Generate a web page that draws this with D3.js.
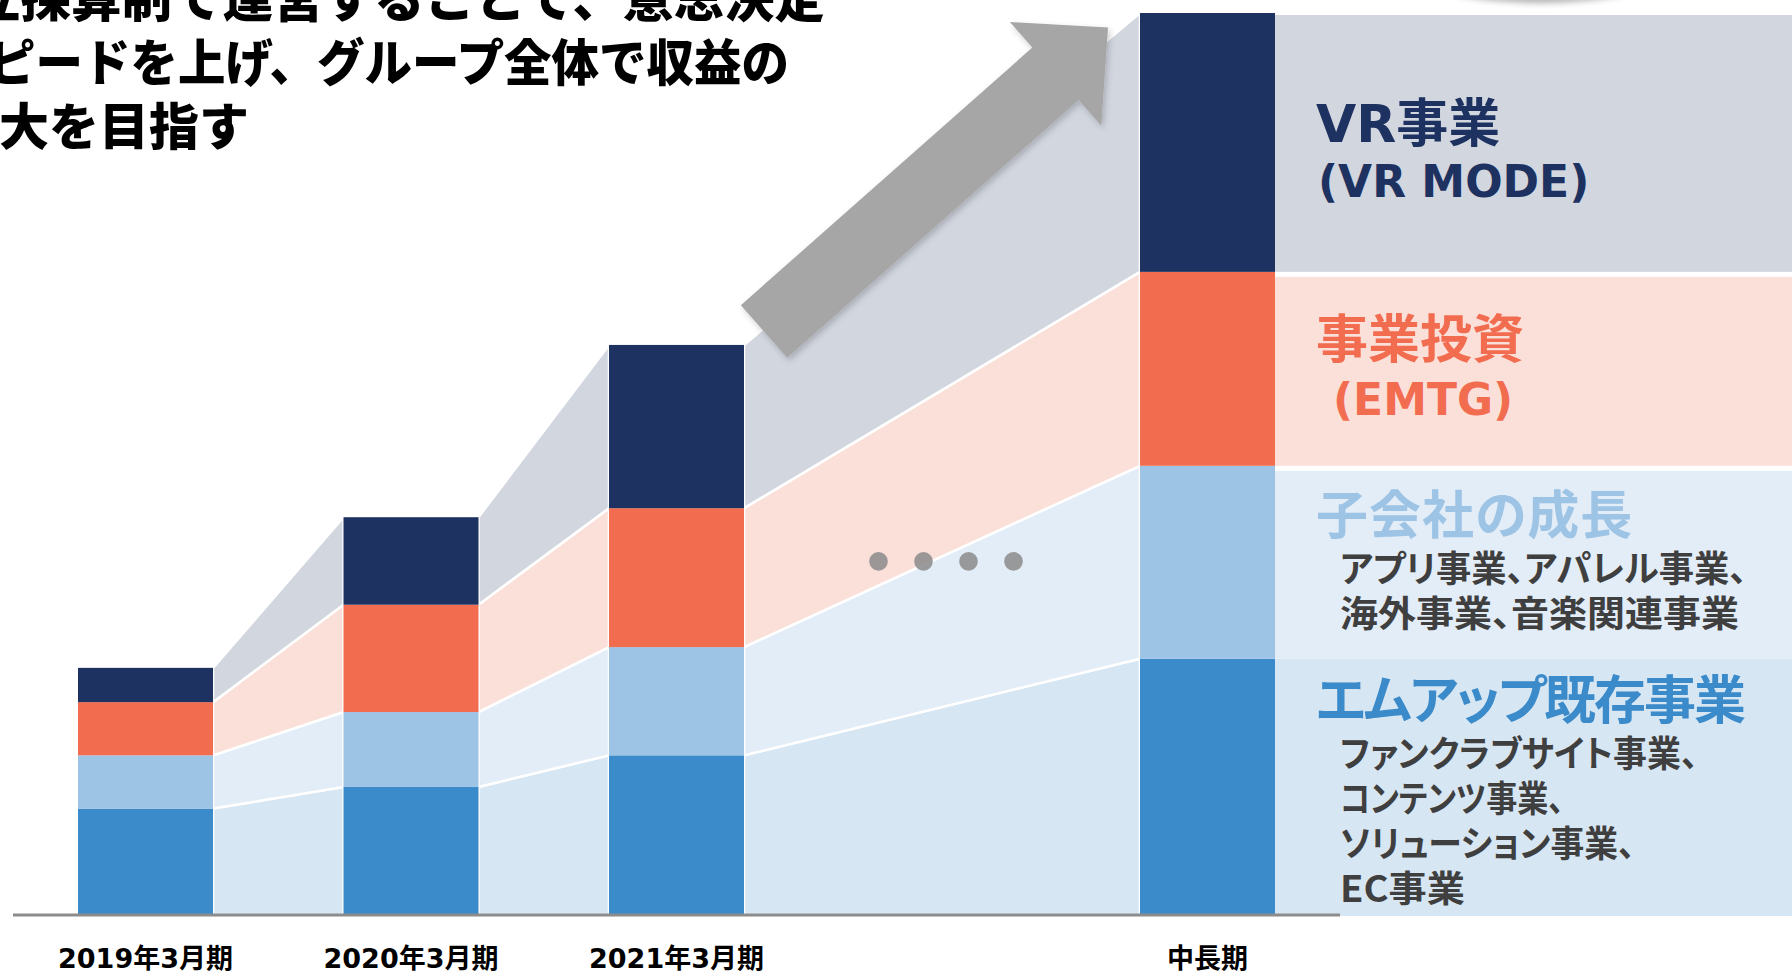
<!DOCTYPE html>
<html lang="ja">
<head>
<meta charset="UTF-8">
<title>事業別 収益拡大イメージ</title>
<script src="https://d3js.org/d3.v7.min.js"></script>
<style>
  body { margin: 0; background: #fff; overflow: hidden; }
  svg { display: block; font-family: "DejaVu Sans", "Noto Sans CJK JP", sans-serif; font-weight: bold; }
  .title { font-family: "Noto Sans CJK JP", sans-serif; font-weight: 900; font-size: 50px; fill: #000; }
  .head { font-size: 52px; font-feature-settings: "palt"; }
  .head-sub { font-size: 44px; }
  .note { font-family: "Noto Sans CJK JP", sans-serif; font-size: 36px; fill: #3f3f3f; font-feature-settings: "palt"; }
  .tick { font-size: 27px; fill: #000; }
</style>
</head>
<body>
<div id="chart"></div>
<script>
// categories (the "…" slot only holds the dots)
const periods = ["2019年3月期", "2020年3月期", "2021年3月期", "…", "中長期"];
const shownPeriods = ["2019年3月期", "2020年3月期", "2021年3月期", "中長期"];

// series, bottom to top
const seriesKeys = ["existing", "subsidiary", "invest", "vr"];
const existing   = [11.8, 14.2, 17.7, 28.4];
const subsidiary = [5.9, 8.3, 12.0, 21.4];
const invest     = [5.9, 11.9, 15.4, 21.5];
const vr         = [3.8, 9.7, 18.1, 28.7];

const barColors  = ["#3b8ac9", "#9dc3e5", "#f26d50", "#1d3260"];
const bandColors = ["#d7e6f3", "#e3edf7", "#fbe0da", "#d2d6df"];

const titleLines = ["立採算制で運営することで、意思決定", "ピードを上げ、グループ全体で収益の", "大を目指す"];

// right side labels per series
const headings = ["エムアップ既存事業", "子会社の成長", "事業投資", "VR事業"];
const subHeadings = ["", "", "(EMTG)", "(VR MODE)"];
const notes = [
    ["ファンクラブサイト事業、", "コンテンツ事業、", "ソリューション事業、", "EC事業"],
    ["アプリ事業、アパレル事業、", "海外事業、音楽関連事業"],
    [],
    []
];

const W = 1792, H = 973;

const svg = d3.select('#chart').append('svg')
    .attr('width', W)
    .attr('height', H);

const x = d3.scaleBand()
    .domain(periods)
    .range([78, 1275])
    .paddingInner(0.4915)
    .paddingOuter(0);
const bw = x.bandwidth();

const y = d3.scaleLinear()
    .domain([0, 100])
    .range([915, 13]);

const table = shownPeriods.map((p, i) => ({
    period: p,
    existing: existing[i],
    subsidiary: subsidiary[i],
    invest: invest[i],
    vr: vr[i]
}));
const stacked = d3.stack().keys(seriesKeys)(table);

const defs = svg.append('defs');
defs.append('filter').attr('id', 'shadow')
    .attr('x', '-20%').attr('y', '-20%').attr('width', '140%').attr('height', '140%')
    .append('feDropShadow')
    .attr('dx', 2).attr('dy', 3).attr('stdDeviation', 3)
    .attr('flood-color', '#000').attr('flood-opacity', 0.2);
defs.append('filter').attr('id', 'softShadow')
    .attr('x', '-30%').attr('y', '-30%').attr('width', '160%').attr('height', '180%')
    .append('feDropShadow')
    .attr('dx', 0).attr('dy', 3).attr('stdDeviation', 3)
    .attr('flood-color', '#000').attr('flood-opacity', 0.3);

// partial oval at the top right edge
svg.append('ellipse')
    .attr('cx', 1540).attr('cy', -100)
    .attr('rx', 210).attr('ry', 100)
    .attr('fill', '#fff')
    .attr('filter', 'url(#softShadow)');

// connecting bands between bars
const bandG = svg.append('g');
stacked.forEach((layer, k) => {
    for (let i = 0; i < layer.length - 1; i++) {
        const a = layer[i], b = layer[i + 1];
        const x0 = x(a.data.period) + bw, x1 = x(b.data.period);
        const pts = [
            [x0, y(a[1])], [x1, y(b[1])], [x1, y(b[0])], [x0, y(a[0])]
        ];
        bandG.append('polygon')
            .attr('points', pts.map(p => p.join(',')).join(' '))
            .attr('fill', bandColors[k])
            .attr('stroke', '#fff')
            .attr('stroke-width', 2.5)
            .attr('stroke-linejoin', 'round');
    }
});

// bands to the right of the last bar
const rightGap = [0, 5, 5, 2];
const lastX = x('中長期') + bw;
svg.append('g').selectAll('rect')
    .data(stacked)
    .join('rect')
    .attr('x', lastX)
    .attr('y', (d, k) => y(d[3][1]) + rightGap[k])
    .attr('width', W - lastX)
    .attr('height', (d, k) => y(d[3][0]) - y(d[3][1]) - rightGap[k] + (k === 0 ? 1 : 0))
    .attr('fill', (d, k) => bandColors[k]);

// stacked bars
svg.append('g').selectAll('g')
    .data(stacked)
    .join('g')
    .attr('fill', (d, k) => barColors[k])
    .selectAll('rect')
    .data(d => d)
    .join('rect')
    .attr('x', d => x(d.data.period))
    .attr('y', d => y(d[1]))
    .attr('width', bw)
    .attr('height', d => y(d[0]) - y(d[1]));

// baseline
svg.append('line')
    .attr('x1', 13).attr('x2', 1340)
    .attr('y1', y(0)).attr('y2', y(0))
    .attr('stroke', '#8c8c8c')
    .attr('stroke-width', 3);

// x labels
svg.append('g').selectAll('text')
    .data(shownPeriods)
    .join('text')
    .attr('class', 'tick')
    .attr('x', d => x(d) + bw / 2)
    .attr('y', 968)
    .attr('text-anchor', 'middle')
    .text(d => d);

// dots in the gap slot
const dotOffsets = [-1.5, -0.5, 0.5, 1.5];
svg.append('g').selectAll('circle')
    .data(dotOffsets)
    .join('circle')
    .attr('cx', d => x('…') + bw / 2 + 4 + d * 45)
    .attr('cy', y(39.2))
    .attr('r', 9.3)
    .attr('fill', '#8a8a8a')
    .attr('fill-opacity', 0.85);

// growth arrow from the 2021 bar towards the mid-term bar
const tail = [x('2021年3月期') + bw + 20, y(64.7)];
const tip = [x('中長期') - 32, y(98.4)];
const dx = tip[0] - tail[0], dy = tip[1] - tail[1];
const len = Math.hypot(dx, dy);
const u = [dx / len, dy / len], n = [-u[1], u[0]];
const shaftHalf = 35, headHalf = 69, headLen = 70;
const at = (along, side) => [tail[0] + u[0] * along + n[0] * side, tail[1] + u[1] * along + n[1] * side];
const arrowPts = [
    at(0, -shaftHalf), at(len - headLen, -shaftHalf), at(len - headLen, -headHalf),
    at(len, 0),
    at(len - headLen, headHalf), at(len - headLen, shaftHalf), at(0, shaftHalf)
];
svg.append('polygon')
    .attr('points', arrowPts.map(p => p.join(',')).join(' '))
    .attr('fill', '#a6a6a6')
    .attr('filter', 'url(#shadow)');

// title (cut off by the page edge like the slide)
const titleX = [-30, -12, -1];
const titleEnd = [825, 789, 249];
const titleY = [17, 81, 145];
svg.append('g').selectAll('text')
    .data(titleLines)
    .join('text')
    .attr('class', 'title')
    .attr('x', (d, i) => titleX[i])
    .attr('y', (d, i) => titleY[i])
    .attr('textLength', (d, i) => titleEnd[i] - titleX[i])
    .attr('lengthAdjust', 'spacingAndGlyphs')
    .text(d => d);

// right side labels
const headY = [719, 534, 358, 142];
const headSpacing = [-2, 1, 0, 0];
const subY = [0, 0, 415, 197];
const subX = [0, 0, 1333, 1318];
const noteWidths = [[358, 224, 295, 125], [407, 399]];
const labelG = svg.append('g');
seriesKeys.forEach((key, k) => {
    labelG.append('text')
        .attr('class', 'head')
        .attr('x', 1316)
        .attr('y', headY[k])
        .attr('fill', barColors[k])
        .style('letter-spacing', headSpacing[k] + 'px')
        .text(headings[k]);
    if (subHeadings[k]) {
        labelG.append('text')
            .attr('class', 'head-sub')
            .attr('x', subX[k])
            .attr('y', subY[k])
            .attr('fill', barColors[k])
            .text(subHeadings[k]);
    }
    notes[k].forEach((line, j) => {
        labelG.append('text')
            .attr('class', 'note')
            .attr('x', 1340)
            .attr('y', headY[k] + 48 + j * 45)
            .attr('textLength', noteWidths[k][j])
            .attr('lengthAdjust', 'spacingAndGlyphs')
            .text(line);
    });
});
</script>
</body>
</html>
